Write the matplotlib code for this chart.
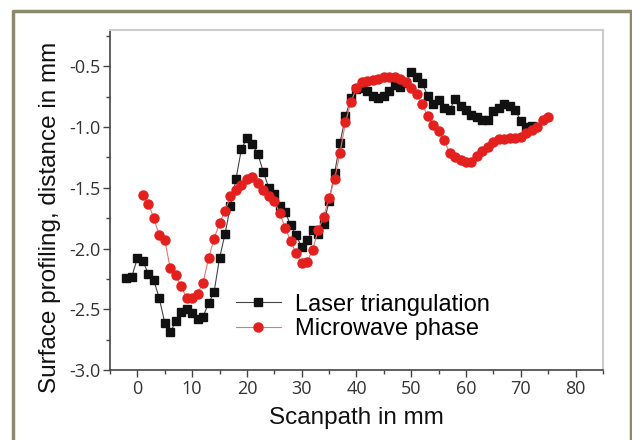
import numpy as np
import matplotlib.pyplot as plt
from matplotlib.lines import Line2D
from matplotlib.ticker import MultipleLocator

plt.rcParams['axes.unicode_minus'] = False

# laser triangulation (black squares)
laser_x = list(range(-2, 73))
laser_y = [-2.24, -2.23, -2.08, -2.10, -2.21, -2.26, -2.41, -2.61, -2.69, -2.60,
           -2.52, -2.50, -2.53, -2.58, -2.56, -2.45, -2.36, -2.08, -1.88, -1.65,
           -1.43, -1.18, -1.09, -1.14, -1.22, -1.37, -1.50, -1.55, -1.65, -1.70,
           -1.81, -1.89, -1.99, -1.93, -1.85, -1.88, -1.80, -1.61, -1.38, -1.13,
           -0.91, -0.76, -0.69, -0.68, -0.70, -0.74, -0.76, -0.74, -0.70, -0.65,
           -0.67, -0.64, -0.55, -0.59, -0.64, -0.74, -0.81, -0.78, -0.84, -0.86,
           -0.77, -0.83, -0.86, -0.90, -0.92, -0.94, -0.94, -0.87, -0.84, -0.81,
           -0.83, -0.86, -0.95, -1.00, -0.99]

# microwave phase (red circles)
micro_x = list(range(1, 76))
micro_y = [-1.56, -1.63, -1.75, -1.89, -1.93, -2.16, -2.22, -2.31, -2.41, -2.41,
           -2.37, -2.28, -2.08, -1.92, -1.79, -1.69, -1.57, -1.52, -1.48, -1.43,
           -1.41, -1.46, -1.52, -1.57, -1.61, -1.71, -1.83, -1.94, -2.04, -2.12,
           -2.11, -2.01, -1.85, -1.74, -1.58, -1.43, -1.21, -0.96, -0.79, -0.68,
           -0.63, -0.62, -0.61, -0.60, -0.59, -0.59, -0.59, -0.60, -0.63, -0.68,
           -0.73, -0.81, -0.91, -0.98, -1.03, -1.11, -1.21, -1.25, -1.27, -1.29,
           -1.29, -1.24, -1.20, -1.16, -1.12, -1.10, -1.10, -1.09, -1.09, -1.08,
           -1.05, -1.02, -1.00, -0.94, -0.92]

fig = plt.figure(figsize=(6.32, 4.40), dpi=100)
fig.patch.set_facecolor('white')
# olive frame (left, top, right) around the panel
fx = [12.5 / 632, 12.5 / 632, 630.5 / 632, 630.5 / 632]
fy = [0.0, 1 - 11.5 / 440, 1 - 11.5 / 440, 0.0]
fig.lines.append(Line2D(fx, fy, transform=fig.transFigure, color='#8c8a6a',
                        linewidth=2.5))

ax = fig.add_axes([0.174, 0.159, 0.78, 0.773])
ax.plot(laser_x, laser_y, color='#444444', lw=0.8, marker='s', ms=5.5,
        mfc='#111111', mec='#111111', label='Laser triangulation', zorder=2)
ax.plot(micro_x, micro_y, color='#f07070', lw=0.8, marker='o', ms=6.5,
        mfc='#e3201e', mec='#e3201e', label='Microwave phase', zorder=3)

ax.set_xlim(-5, 85)
ax.set_ylim(-3.0, -0.2)
ax.xaxis.set_major_locator(MultipleLocator(10))
ax.xaxis.set_minor_locator(MultipleLocator(5))
ax.yaxis.set_minor_locator(MultipleLocator(0.25))
ax.set_yticks([-3.0, -2.5, -2.0, -1.5, -1.0, -0.5])

for s in ['left', 'bottom']:
    ax.spines[s].set_color('#444444')
    ax.spines[s].set_linewidth(1.2)
for s in ['top', 'right']:
    ax.spines[s].set_color('#cccccc')
    ax.spines[s].set_linewidth(1.5)

ax.tick_params(which='major', direction='out', length=5, width=1, color='#444444',
               labelsize=13, labelcolor='#333333', pad=2)
ax.tick_params(which='minor', direction='out', length=3, width=1, color='#444444')
for lbl in ax.get_xticklabels() + ax.get_yticklabels():
    lbl.set_family('Open Sans')

ax.set_xlabel('Scanpath in mm', fontsize=17.5, family='Liberation Sans',
              color='#111111', labelpad=7)
ax.set_ylabel('Surface profiling, distance in mm', fontsize=17.5,
              family='Liberation Sans', color='#111111')
ax.yaxis.set_label_coords(-0.1, 0.45)

ax.legend(loc='upper left', bbox_to_anchor=(0.255, 0.225), frameon=False,
          prop={'family': 'Liberation Sans', 'size': 17}, handlelength=1.9,
          handletextpad=0.6, labelspacing=0.1, borderpad=0, borderaxespad=0)

fig.savefig('out.png', dpi=100)
